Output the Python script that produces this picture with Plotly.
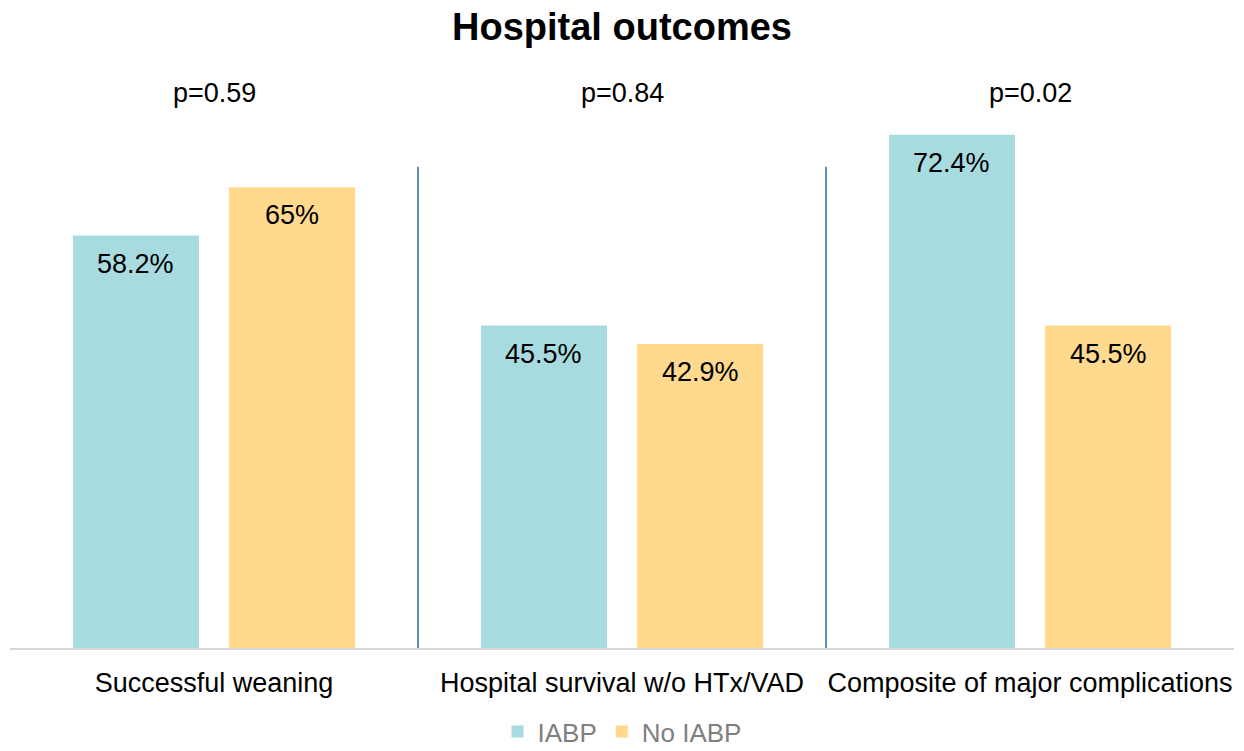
import plotly.graph_objects as go

categories = ["Successful weaning", "Hospital survival w/o HTx/VAD", "Composite of major complications"]
iabp = [58.2, 45.5, 72.4]
no_iabp = [65, 42.9, 45.5]
p_values = ["p=0.59", "p=0.84", "p=0.02"]
series_names = ["IABP", "No IABP"]

FONT = "Liberation Sans, Arial, sans-serif"
BARGAP = 0.235
BARGROUPGAP = 0.192
colors = ["#A7DBE0", "#FED98E"]

fig = go.Figure()
for name, vals, col in zip(series_names, [iabp, no_iabp], colors):
    fig.add_trace(go.Bar(
        x=categories, y=vals, name=name,
        marker=dict(color=col, line=dict(width=0)),
        hoverinfo="skip",
    ))

# bar value labels, placed at the centres of the grouped bars
slot = (1 - BARGAP) / 2
for s, vals in enumerate([iabp, no_iabp]):
    off = (s - 0.5) * slot
    for i, v in enumerate(vals):
        fig.add_annotation(
            x=i + off, y=v, xref="x", yref="y",
            text=f"{v:g}%", showarrow=False, yanchor="middle", yshift=-28,
            font=dict(family=FONT, size=27, color="#000000"),
        )

# p-values above each category
for i, p in enumerate(p_values):
    fig.add_annotation(
        x=i, y=78.3, xref="x", yref="y", text=p, showarrow=False,
        yanchor="middle", font=dict(family=FONT, size=27, color="#000000"),
    )

# dividers between categories
for i in range(len(categories) - 1):
    fig.add_shape(type="line", xref="x", yref="y", x0=i + 0.5, x1=i + 0.5,
                  y0=0, y1=67.9, line=dict(color="#2a6d9c", width=1.5))

fig.update_layout(
    width=1244, height=751,
    margin=dict(l=10, r=10, t=81, b=103, autoexpand=False),
    paper_bgcolor="white", plot_bgcolor="white",
    barmode="group", bargap=BARGAP, bargroupgap=BARGROUPGAP,
    title=dict(text="<b>Hospital outcomes</b>", x=0.5, xanchor="center",
               y=1 - 27 / 751, yanchor="middle",
               font=dict(family=FONT, size=38, color="#000000")),
    font=dict(family=FONT, size=27, color="#000000"),
    showlegend=True,
    legend=dict(orientation="h", x=0.5, xanchor="center", y=-0.106, yanchor="top",
                font=dict(family=FONT, size=26, color="#7f7f7f"),
                itemclick=False, itemdoubleclick=False),
    xaxis=dict(showgrid=False, showline=True, linecolor="#d9d9d9", linewidth=2,
               ticks="", ticklabelstandoff=10, automargin=False,
               tickfont=dict(family=FONT, size=27, color="#000000"),
               range=[-0.5, 2.5]),
    yaxis=dict(range=[0, 80], visible=False, showgrid=False, zeroline=False,
               automargin=False),
)

fig.write_html(
    "out.html",
    config={"displayModeBar": False},
    post_script="document.body.style.margin='0';document.body.style.overflow='hidden';",
)
